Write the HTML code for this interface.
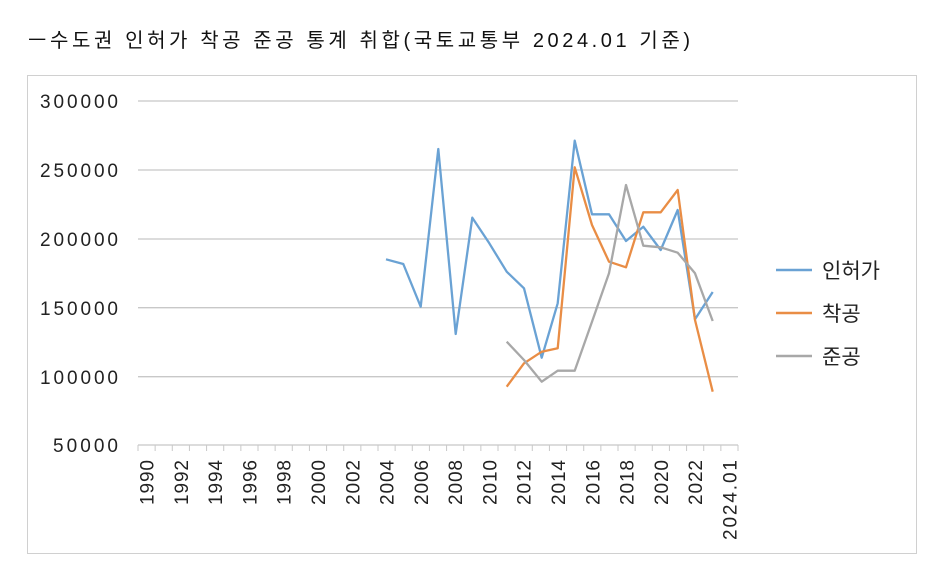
<!DOCTYPE html>
<html><head><meta charset="utf-8"><style>
body{margin:0;background:#fff;width:949px;height:575px;overflow:hidden;font-family:"Liberation Sans","Noto Sans CJK KR",sans-serif;}
</style></head><body>
<svg width="949" height="575" xmlns="http://www.w3.org/2000/svg" style="position:absolute;left:0;top:0">
<text x="28" y="47" font-size="20" fill="#111" textLength="662" lengthAdjust="spacing" font-family="Liberation Sans, Noto Sans CJK KR, sans-serif">ㅡ수도권 인허가 착공 준공 통계 취합(국토교통부 2024.01 기준)</text>
<rect x="27.5" y="75.5" width="889" height="478" fill="none" stroke="#d0d0d0"/>
<g stroke="#c8c8c8" stroke-width="1.3">
<line x1="138" y1="101" x2="738" y2="101"/>
<line x1="138" y1="170" x2="738" y2="170"/>
<line x1="138" y1="239" x2="738" y2="239"/>
<line x1="138" y1="307.7" x2="738" y2="307.7"/>
<line x1="138" y1="376.7" x2="738" y2="376.7"/>
<line x1="138" y1="445" x2="738" y2="445"/>
</g>
<g font-size="19" fill="#222" font-family="Liberation Sans, sans-serif">
<text x="40" y="108" textLength="78">300000</text>
<text x="40" y="177" textLength="78">250000</text>
<text x="40" y="246" textLength="78">200000</text>
<text x="40" y="315" textLength="78">150000</text>
<text x="40" y="384" textLength="78">100000</text>
<text x="53" y="452" textLength="65">50000</text>
</g>
<g id="ticks" stroke="#c8c8c8" stroke-width="1"></g>
<g id="xl" font-size="19" fill="#222" font-family="Liberation Sans, sans-serif"></g>
<polyline fill="none" stroke="#6aa2d4" stroke-width="2.3" stroke-linejoin="round" points="386,259.3 403.3,264 420.7,306.7 438.3,149 455.7,334 472.3,217.7 489.3,243.3 506.7,271.7 524,288.3 541.7,357.7 557.7,303.3 574.7,140.7 592,214.3 609,214.3 626,241 643.3,226.7 660.7,250 677.7,210 695,319.3 712.7,292"/>
<polyline fill="none" stroke="#e98d45" stroke-width="2.3" stroke-linejoin="round" points="506.7,386.7 524,363.3 541.7,351.7 557.7,348.3 574.7,167.3 592,225 609,261.7 626,267.3 643.3,212.3 660.7,212.3 677.7,190 695,320 712.7,391.7"/>
<polyline fill="none" stroke="#a8a8a8" stroke-width="2.3" stroke-linejoin="round" points="506.7,341.7 524,360 541.7,381.7 557.7,370.7 574.7,370.7 592,321.7 609,273.3 626,185 643.3,245.7 660.7,247.3 677.7,252.7 695,273.3 712.7,321"/>
<g font-size="21" fill="#222" font-family="Liberation Sans, Noto Sans CJK KR, sans-serif">
<line x1="776" y1="270" x2="812" y2="270" stroke="#6aa2d4" stroke-width="2.5"/><text x="822" y="278">인허가</text>
<line x1="776" y1="313" x2="812" y2="313" stroke="#e98d45" stroke-width="2.5"/><text x="822" y="321">착공</text>
<line x1="776" y1="356" x2="812" y2="356" stroke="#a8a8a8" stroke-width="2.5"/><text x="822" y="364">준공</text>
</g>
</svg>
<script>
var ns="http://www.w3.org/2000/svg",t=document.getElementById('ticks'),xl=document.getElementById('xl');
for(var i=0;i<=35;i++){var x=138+i*600/35;var l=document.createElementNS(ns,'line');l.setAttribute('x1',x);l.setAttribute('x2',x);l.setAttribute('y1',445);l.setAttribute('y2',451);t.appendChild(l);}
for(var i=0;i<=34;i+=2){var lab=i<34?String(1990+i):'2024.01';var x=138+(i+0.5)*600/35+7;var e=document.createElementNS(ns,'text');e.setAttribute('transform','translate('+x+',460) rotate(-90)');e.setAttribute('text-anchor','end');e.setAttribute('textLength',i<34?45:80);e.textContent=lab;xl.appendChild(e);}
</script>
</body></html>
